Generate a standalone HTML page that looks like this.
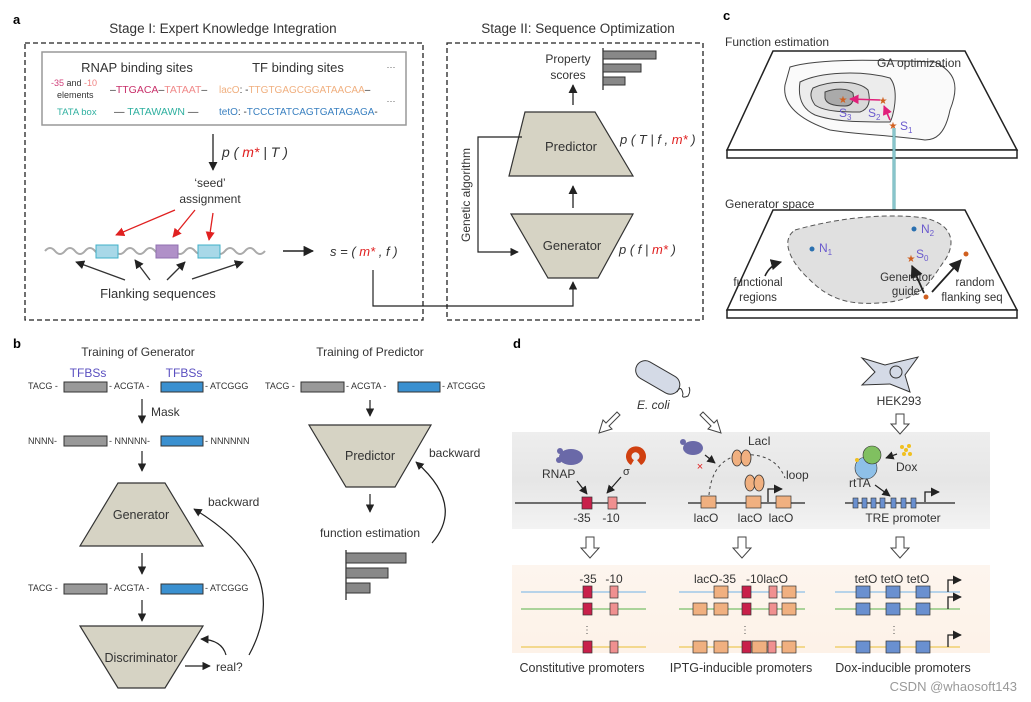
<!DOCTYPE html>
<html><head><meta charset="utf-8"><style>
html,body{margin:0;padding:0;background:#fff}
svg{display:block;font-family:"Liberation Sans",Arial,sans-serif}
</style></head><body>
<svg width="1031" height="702" viewBox="0 0 1031 702" xmlns="http://www.w3.org/2000/svg">
<defs>
<marker id="ah" viewBox="0 0 10 10" refX="9" refY="5" markerWidth="7" markerHeight="7" orient="auto"><path d="M0,0L10,5L0,10z" fill="#222"/></marker>
<marker id="ahr" viewBox="0 0 10 10" refX="9" refY="5" markerWidth="7" markerHeight="7" orient="auto"><path d="M0,0L10,5L0,10z" fill="#e02020"/></marker>
<marker id="ahp" viewBox="0 0 10 10" refX="9" refY="5" markerWidth="6" markerHeight="6" orient="auto"><path d="M0,0L10,5L0,10z" fill="#e0207a"/></marker>
<linearGradient id="gp" x1="0" y1="0" x2="0" y2="1"><stop offset="0" stop-color="#eee"/><stop offset="0.5" stop-color="#e6e6e6"/><stop offset="1" stop-color="#f3f3f3"/></linearGradient>
<linearGradient id="pp" x1="0" y1="0" x2="0" y2="1"><stop offset="0" stop-color="#fdf5ee"/><stop offset="1" stop-color="#fdf2e8"/></linearGradient>
</defs>

<!-- ===== Panel a ===== -->
<text x="13" y="24" font-size="13" font-weight="bold">a</text>
<text x="223" y="33" font-size="13.5" text-anchor="middle" fill="#333">Stage I: Expert Knowledge Integration</text>
<rect x="25" y="43" width="398" height="277" fill="none" stroke="#222" stroke-width="1.3" stroke-dasharray="5,3"/>
<rect x="42" y="52" width="364" height="73" fill="#fff" stroke="#999" stroke-width="1.5"/>
<text x="137" y="72" font-size="13" text-anchor="middle" fill="#333">RNAP binding sites</text>
<text x="298" y="72" font-size="13" text-anchor="middle" fill="#333">TF binding sites</text>
<text x="391" y="70" font-size="9" text-anchor="middle" fill="#555">···</text>
<text x="391" y="104" font-size="9" text-anchor="middle" fill="#555">···</text>
<text x="51" y="86" font-size="9"><tspan fill="#d0407a">-35</tspan><tspan fill="#333"> and </tspan><tspan fill="#f08080">-10</tspan></text>
<text x="57" y="98" font-size="9" fill="#333">elements</text>
<text x="110" y="93" font-size="10.5"><tspan fill="#333">–</tspan><tspan fill="#c8306a">TTGACA</tspan><tspan fill="#333">–</tspan><tspan fill="#f08a8a">TATAAT</tspan><tspan fill="#333">–</tspan></text>
<text x="219" y="93" font-size="10"><tspan fill="#f0b080">lacO</tspan><tspan fill="#333">: -</tspan><tspan fill="#f0b080">TTGTGAGCGGATAACAA</tspan><tspan fill="#333">–</tspan></text>
<text x="57" y="115" font-size="9.5" fill="#30b0a0">TATA box</text>
<text x="114" y="115" font-size="10.5"><tspan fill="#333">— </tspan><tspan fill="#30b0a0">TATAWAWN</tspan><tspan fill="#333"> —</tspan></text>
<text x="219" y="115" font-size="10"><tspan fill="#3a80c0">tetO</tspan><tspan fill="#333">: -</tspan><tspan fill="#3a80c0">TCCCTATCAGTGATAGAGA</tspan><tspan fill="#333">-</tspan></text>
<line x1="213" y1="134" x2="213" y2="170" stroke="#222" stroke-width="1.3" marker-end="url(#ah)"/>
<text x="222" y="157" font-size="14" font-style="italic" fill="#333">p ( <tspan fill="#e02020">m*</tspan> | T )</text>
<text x="210" y="187" font-size="12" text-anchor="middle" fill="#333">‘seed’</text>
<text x="210" y="203" font-size="12" text-anchor="middle" fill="#333">assignment</text>
<line x1="175" y1="210" x2="116" y2="235" stroke="#e02020" stroke-width="1.3" marker-end="url(#ahr)"/>
<line x1="195" y1="210" x2="173" y2="237" stroke="#e02020" stroke-width="1.3" marker-end="url(#ahr)"/>
<line x1="213" y1="213" x2="209" y2="240" stroke="#e02020" stroke-width="1.3" marker-end="url(#ahr)"/>
<path d="M45,251 q5,-6 10,0 t10,0 t10,0 t10,0 t10,0 t10,0 t10,0 t10,0 t10,0 t10,0 t10,0 t10,0 t10,0 t10,0 t10,0 t10,0 t10,0 t10,0 t10,0 t10,0 t10,0 t10,0" fill="none" stroke="#aaa" stroke-width="2"/>
<rect x="96" y="245" width="22" height="13" fill="#a8d8e8" stroke="#40b0c8" stroke-width="1"/>
<rect x="156" y="245" width="22" height="13" fill="#b090c8" stroke="#9070b0" stroke-width="1"/>
<rect x="198" y="245" width="22" height="13" fill="#a8d8e8" stroke="#40b0c8" stroke-width="1"/>
<line x1="125" y1="280" x2="76" y2="262" stroke="#333" stroke-width="1.3" marker-end="url(#ah)"/>
<line x1="150" y1="280" x2="135" y2="260" stroke="#333" stroke-width="1.3" marker-end="url(#ah)"/>
<line x1="167" y1="280" x2="185" y2="262" stroke="#333" stroke-width="1.3" marker-end="url(#ah)"/>
<line x1="192" y1="279" x2="243" y2="262" stroke="#333" stroke-width="1.3" marker-end="url(#ah)"/>
<text x="158" y="298" font-size="13" text-anchor="middle" fill="#333">Flanking sequences</text>
<line x1="283" y1="251" x2="313" y2="251" stroke="#222" stroke-width="1.5" marker-end="url(#ah)"/>
<text x="330" y="256" font-size="13" font-style="italic" fill="#333">s = ( <tspan fill="#e02020">m*</tspan> , f )</text>
<polyline points="373,270 373,306 573,306 573,282" fill="none" stroke="#222" stroke-width="1.2" marker-end="url(#ah)"/>

<!-- Stage II -->
<text x="578" y="33" font-size="13.5" text-anchor="middle" fill="#333">Stage II: Sequence Optimization</text>
<rect x="447" y="43" width="256" height="277" fill="none" stroke="#222" stroke-width="1.3" stroke-dasharray="5,3"/>
<text x="568" y="63" font-size="12" text-anchor="middle" fill="#333">Property</text>
<text x="568" y="79" font-size="12" text-anchor="middle" fill="#333">scores</text>
<line x1="603" y1="48" x2="603" y2="90" stroke="#333" stroke-width="1.3"/>
<rect x="603" y="51" width="53" height="8" fill="#888" stroke="#333"/>
<rect x="603" y="64" width="38" height="8" fill="#888" stroke="#333"/>
<rect x="603" y="77" width="22" height="8" fill="#888" stroke="#333"/>
<line x1="573" y1="105" x2="573" y2="85" stroke="#222" stroke-width="1.3" marker-end="url(#ah)"/>
<polygon points="525,112 595,112 633,176 509,176" fill="#d6d3c4" stroke="#333" stroke-width="1.2"/>
<text x="571" y="151" font-size="13" text-anchor="middle" fill="#333">Predictor</text>
<line x1="573" y1="208" x2="573" y2="186" stroke="#222" stroke-width="1.3" marker-end="url(#ah)"/>
<polygon points="511,214 633,214 598,278 548,278" fill="#d6d3c4" stroke="#333" stroke-width="1.2"/>
<text x="572" y="250" font-size="13" text-anchor="middle" fill="#333">Generator</text>
<text x="620" y="144" font-size="13" font-style="italic" fill="#333">p ( T | f , <tspan fill="#e02020">m*</tspan> )</text>
<text x="619" y="254" font-size="13" font-style="italic" fill="#333">p ( f | <tspan fill="#e02020">m*</tspan> )</text>
<polyline points="522,137 478,137 478,252 518,252" fill="none" stroke="#222" stroke-width="1.2" marker-end="url(#ah)"/>
<text transform="translate(470,195) rotate(-90)" font-size="12" text-anchor="middle" fill="#333">Genetic algorithm</text>

<!-- ===== Panel c ===== -->
<text x="723" y="20" font-size="13" font-weight="bold">c</text>
<text x="725" y="46" font-size="12" fill="#333">Function estimation</text>
<polygon points="773,51 965,51 1017,150 727,150" fill="#fff" stroke="#222" stroke-width="1.5"/>
<rect x="727" y="150" width="290" height="8" fill="#fff" stroke="#222" stroke-width="1.5"/>
<path d="M790,67 C820,58 880,60 935,62 C955,72 960,85 950,110 C945,135 935,140 925,140 C890,135 860,135 830,130 C800,120 782,105 785,85 Z" fill="#fafafa" stroke="#444" stroke-width="1"/>
<path d="M800,82 C820,72 860,70 890,78 C900,90 893,118 890,122 C860,122 835,122 815,115 C800,108 798,95 800,82 Z" fill="#ececec" stroke="#444" stroke-width="1"/>
<path d="M813,88 C830,80 858,80 868,90 C872,105 866,110 860,112 C845,112 825,112 815,105 C810,98 810,93 813,88 Z" fill="#d8d8d8" stroke="#444" stroke-width="1"/>
<path d="M825,92 C835,88 848,88 853,93 C855,103 850,106 845,106 C835,106 826,104 825,98 Z" fill="#aaa" stroke="#444" stroke-width="1"/>
<text x="877" y="67" font-size="12" fill="#333">GA optimization</text>
<line x1="880" y1="100" x2="850" y2="99" stroke="#e0207a" stroke-width="1.6" marker-end="url(#ahp)"/>
<line x1="890" y1="120" x2="884" y2="106" stroke="#e0207a" stroke-width="1.6" marker-end="url(#ahp)"/>
<text x="843" y="103" font-size="10" text-anchor="middle" fill="#d06020">★</text>
<text x="883" y="104" font-size="10" text-anchor="middle" fill="#d06020">★</text>
<text x="893" y="129" font-size="10" text-anchor="middle" fill="#d06020">★</text>
<text x="839" y="117" font-size="12" fill="#6a5acd">S<tspan font-size="8" dy="3">3</tspan></text>
<text x="868" y="117" font-size="12" fill="#6a5acd">S<tspan font-size="8" dy="3">2</tspan></text>
<text x="900" y="130" font-size="12" fill="#6a5acd">S<tspan font-size="8" dy="3">1</tspan></text>
<polyline points="894,128 894,259 909,259" fill="none" stroke="#5aa" stroke-width="3"/>
<polyline points="894,128 894,259 909,259" fill="none" stroke="#bde" stroke-width="1"/>
<text x="725" y="208" font-size="12" fill="#333">Generator space</text>
<polygon points="773,210 965,210 1017,310 727,310" fill="#fff" stroke="#222" stroke-width="1.5"/>
<rect x="727" y="310" width="290" height="8" fill="#fff" stroke="#222" stroke-width="1.5"/>
<path d="M795,230 C830,220 880,212 925,218 C955,225 955,245 945,260 C930,280 925,300 880,303 C850,305 830,300 810,280 C790,262 780,240 795,230 Z" fill="#e0e0e0" stroke="#555" stroke-width="1" stroke-dasharray="5,3"/>
<circle cx="812" cy="249" r="2.5" fill="#2a70b0"/>
<text x="819" y="252" font-size="12" fill="#6a5acd">N<tspan font-size="8" dy="3">1</tspan></text>
<circle cx="914" cy="229" r="2.5" fill="#2a70b0"/>
<text x="921" y="233" font-size="12" fill="#6a5acd">N<tspan font-size="8" dy="3">2</tspan></text>
<text x="911" y="262" font-size="10" text-anchor="middle" fill="#d06020">★</text>
<text x="916" y="258" font-size="12" fill="#6a5acd">S<tspan font-size="8" dy="3">0</tspan></text>
<text x="906" y="281" font-size="11.5" text-anchor="middle" fill="#333">Generator</text>
<text x="906" y="295" font-size="11.5" text-anchor="middle" fill="#333">guide</text>
<text x="758" y="286" font-size="11.5" text-anchor="middle" fill="#333">functional</text>
<text x="758" y="301" font-size="11.5" text-anchor="middle" fill="#333">regions</text>
<text x="975" y="286" font-size="11.5" text-anchor="middle" fill="#333">random</text>
<text x="972" y="301" font-size="11.5" text-anchor="middle" fill="#333">flanking seq</text>
<path d="M765,276 Q770,265 781,262" fill="none" stroke="#222" stroke-width="1.6" marker-end="url(#ah)"/>
<circle cx="926" cy="297" r="2.5" fill="#d06020"/>
<circle cx="966" cy="254" r="2.5" fill="#d06020"/>
<line x1="924" y1="293" x2="912" y2="266" stroke="#222" stroke-width="1.8" marker-end="url(#ah)"/>
<line x1="932" y1="292" x2="961" y2="260" stroke="#222" stroke-width="1.8" marker-end="url(#ah)"/>

<!-- ===== Panel b ===== -->
<text x="13" y="348" font-size="13" font-weight="bold">b</text>
<text x="138" y="356" font-size="12" text-anchor="middle" fill="#333">Training of Generator</text>
<text x="370" y="356" font-size="12" text-anchor="middle" fill="#333">Training of Predictor</text>
<text x="88" y="377" font-size="12" text-anchor="middle" fill="#5a4fc0">TFBSs</text>
<text x="184" y="377" font-size="12" text-anchor="middle" fill="#5a4fc0">TFBSs</text>
<g font-size="9" fill="#333">
<text x="28" y="389">TACG -</text><rect x="64" y="382" width="43" height="10" fill="#999" stroke="#333"/>
<text x="109" y="389">- ACGTA -</text><rect x="161" y="382" width="42" height="10" fill="#3a90d0" stroke="#333"/>
<text x="205" y="389">- ATCGGG</text>
<text x="28" y="444">NNNN-</text><rect x="64" y="436" width="43" height="10" fill="#999" stroke="#333"/>
<text x="109" y="444">- NNNNN-</text><rect x="161" y="436" width="42" height="10" fill="#3a90d0" stroke="#333"/>
<text x="205" y="444">- NNNNNN</text>
<text x="28" y="591">TACG -</text><rect x="64" y="584" width="43" height="10" fill="#999" stroke="#333"/>
<text x="109" y="591">- ACGTA -</text><rect x="161" y="584" width="42" height="10" fill="#3a90d0" stroke="#333"/>
<text x="205" y="591">- ATCGGG</text>
<text x="265" y="389">TACG -</text><rect x="301" y="382" width="43" height="10" fill="#999" stroke="#333"/>
<text x="346" y="389">- ACGTA -</text><rect x="398" y="382" width="42" height="10" fill="#3a90d0" stroke="#333"/>
<text x="442" y="389">- ATCGGG</text>
</g>
<line x1="142" y1="399" x2="142" y2="423" stroke="#222" stroke-width="1.2" marker-end="url(#ah)"/>
<text x="151" y="416" font-size="12" fill="#333">Mask</text>
<line x1="142" y1="451" x2="142" y2="471" stroke="#222" stroke-width="1.2" marker-end="url(#ah)"/>
<polygon points="118,483 165,483 203,546 80,546" fill="#d6d3c4" stroke="#333" stroke-width="1.2"/>
<text x="141" y="519" font-size="12.5" text-anchor="middle" fill="#333">Generator</text>
<line x1="142" y1="553" x2="142" y2="574" stroke="#222" stroke-width="1.2" marker-end="url(#ah)"/>
<line x1="142" y1="600" x2="142" y2="621" stroke="#222" stroke-width="1.2" marker-end="url(#ah)"/>
<polygon points="80,626 203,626 165,688 118,688" fill="#d6d3c4" stroke="#333" stroke-width="1.2"/>
<text x="141" y="662" font-size="12.5" text-anchor="middle" fill="#333">Discriminator</text>
<line x1="185" y1="666" x2="210" y2="666" stroke="#222" stroke-width="1.2" marker-end="url(#ah)"/>
<text x="216" y="671" font-size="12" fill="#333">real?</text>
<path d="M226,655 Q222,640 201,639" fill="none" stroke="#222" stroke-width="1.2" marker-end="url(#ah)"/>
<path d="M249,655 Q295,570 194,509" fill="none" stroke="#222" stroke-width="1.2" marker-end="url(#ah)"/>
<text x="208" y="506" font-size="12" fill="#333">backward</text>
<line x1="370" y1="400" x2="370" y2="416" stroke="#222" stroke-width="1.2" marker-end="url(#ah)"/>
<polygon points="309,425 431,425 395,487 346,487" fill="#d6d3c4" stroke="#333" stroke-width="1.2"/>
<text x="370" y="460" font-size="12.5" text-anchor="middle" fill="#333">Predictor</text>
<text x="429" y="457" font-size="12" fill="#333">backward</text>
<path d="M432,543 Q465,505 416,462" fill="none" stroke="#222" stroke-width="1.2" marker-end="url(#ah)"/>
<line x1="370" y1="494" x2="370" y2="512" stroke="#222" stroke-width="1.2" marker-end="url(#ah)"/>
<text x="370" y="537" font-size="12" text-anchor="middle" fill="#333">function estimation</text>
<line x1="346" y1="550" x2="346" y2="600" stroke="#333" stroke-width="1.3"/>
<rect x="346" y="553" width="60" height="10" fill="#888" stroke="#333"/>
<rect x="346" y="568" width="42" height="10" fill="#888" stroke="#333"/>
<rect x="346" y="583" width="24" height="10" fill="#888" stroke="#333"/>

<!-- ===== Panel d ===== -->
<text x="513" y="348" font-size="13" font-weight="bold">d</text>
<rect x="512" y="432" width="478" height="97" fill="url(#gp)"/>
<rect x="512" y="565" width="478" height="88" fill="url(#pp)"/>
<rect x="634" y="368" width="48" height="19" rx="9.5" fill="#d4dae6" stroke="#333" transform="rotate(30 658 377)"/>
<path d="M677,392 q4,-8 6,2 q-2,5 5,2 q3,-5 1,-9" fill="none" stroke="#333" stroke-width="1"/>
<text x="637" y="409" font-size="12" font-style="italic" fill="#333">E. coli</text>
<path d="M862,358 L885,365 L918,357 L905,375 L910,392 L890,384 L862,385 L875,372 Z" fill="#d4dae6" stroke="#333" stroke-width="1"/>
<circle cx="896" cy="372" r="6" fill="#d4dae6" stroke="#333"/>
<text x="899" y="405" font-size="12" text-anchor="middle" fill="#333">HEK293</text>
<g fill="#fff" stroke="#444" stroke-width="1">
<path d="M617,412 l-11,11 l-3,-3 l-4,13 l13,-4 l-3,-3 l11,-11 z"/>
<path d="M703,412 l11,11 l3,-3 l4,13 l-13,-4 l3,-3 l-11,-11 z"/>
<path d="M896,414 h8 v10 h5 l-9,10 l-9,-10 h5 z"/>
<path d="M586,537 h8 v11 h5 l-9,10 l-9,-10 h5 z"/>
<path d="M738,537 h8 v11 h5 l-9,10 l-9,-10 h5 z"/>
<path d="M896,537 h8 v11 h5 l-9,10 l-9,-10 h5 z"/>
</g>
<ellipse cx="571" cy="457" rx="12" ry="8" fill="#6a69a8"/><circle cx="560" cy="451" r="3" fill="#6a69a8"/><circle cx="559" cy="460" r="3" fill="#6a69a8"/>
<path d="M631,465 a10,10 0 1 1 10,0 l-4,-5 a4,4 0 1 0 -3,0 z" fill="#d04010"/>
<text x="542" y="478" font-size="12" fill="#333">RNAP</text>
<text x="623" y="475" font-size="11" fill="#333">σ</text>
<line x1="577" y1="481" x2="587" y2="494" stroke="#222" stroke-width="1.2" marker-end="url(#ah)"/>
<line x1="621" y1="477" x2="607" y2="493" stroke="#222" stroke-width="1.2" marker-end="url(#ah)"/>
<line x1="515" y1="503" x2="646" y2="503" stroke="#222" stroke-width="1.3"/>
<rect x="582" y="497" width="10" height="12" fill="#c8204a" stroke="#333" stroke-width="0.7"/>
<rect x="608" y="497" width="9" height="12" fill="#f09090" stroke="#333" stroke-width="0.7"/>
<text x="582" y="522" font-size="12" text-anchor="middle" fill="#333">-35</text>
<text x="611" y="522" font-size="12" text-anchor="middle" fill="#333">-10</text>
<ellipse cx="693" cy="448" rx="10" ry="7" fill="#6a69a8"/><circle cx="683" cy="442" r="3" fill="#6a69a8"/>
<text x="700" y="470" font-size="11" fill="#e02020" text-anchor="middle">×</text>
<line x1="705" y1="455" x2="715" y2="463" stroke="#222" stroke-width="1.2" marker-end="url(#ah)"/>
<path d="M709,495 Q712,460 740,455 Q775,452 785,478" fill="none" stroke="#444" stroke-dasharray="3,3"/>
<ellipse cx="737" cy="458" rx="5" ry="8" fill="#f0b080" stroke="#333" stroke-width="0.8"/>
<ellipse cx="746" cy="458" rx="5" ry="8" fill="#f0b080" stroke="#333" stroke-width="0.8"/>
<ellipse cx="750" cy="483" rx="5" ry="8" fill="#f0b080" stroke="#333" stroke-width="0.8"/>
<ellipse cx="759" cy="483" rx="5" ry="8" fill="#f0b080" stroke="#333" stroke-width="0.8"/>
<text x="748" y="445" font-size="12" fill="#333">LacI</text>
<text x="786" y="479" font-size="12" fill="#333">loop</text>
<polyline points="768,502 768,489 782,489" fill="none" stroke="#222" stroke-width="1.3" marker-end="url(#ah)"/>
<line x1="688" y1="503" x2="805" y2="503" stroke="#222" stroke-width="1.3"/>
<rect x="701" y="496" width="15" height="12" fill="#f0b080" stroke="#333" stroke-width="0.7"/>
<rect x="746" y="496" width="15" height="12" fill="#f0b080" stroke="#333" stroke-width="0.7"/>
<rect x="776" y="496" width="15" height="12" fill="#f0b080" stroke="#333" stroke-width="0.7"/>
<text x="706" y="522" font-size="12" text-anchor="middle" fill="#333">lacO</text>
<text x="750" y="522" font-size="12" text-anchor="middle" fill="#333">lacO</text>
<text x="781" y="522" font-size="12" text-anchor="middle" fill="#333">lacO</text>
<circle cx="866" cy="468" r="11" fill="#8ec0e8" stroke="#333" stroke-width="0.6"/>
<circle cx="872" cy="455" r="9" fill="#80c060" stroke="#333" stroke-width="0.6"/>
<circle cx="857" cy="460" r="2" fill="#f0c020"/>
<g fill="#f0c020"><circle cx="902" cy="447" r="2"/><circle cx="906" cy="450" r="2"/><circle cx="909" cy="446" r="2"/><circle cx="904" cy="454" r="2"/><circle cx="910" cy="454" r="2"/></g>
<line x1="897" y1="454" x2="886" y2="458" stroke="#222" stroke-width="1.2" marker-end="url(#ah)"/>
<text x="896" y="471" font-size="12" fill="#333">Dox</text>
<text x="849" y="487" font-size="12" fill="#333">rtTA</text>
<line x1="875" y1="485" x2="890" y2="496" stroke="#222" stroke-width="1.2" marker-end="url(#ah)"/>
<line x1="845" y1="503" x2="955" y2="503" stroke="#222" stroke-width="1.3"/>
<g fill="#6a90d0" stroke="#333" stroke-width="0.6">
<rect x="853" y="498" width="5" height="10"/><rect x="862" y="498" width="5" height="10"/><rect x="871" y="498" width="5" height="10"/><rect x="880" y="498" width="5" height="10"/><rect x="891" y="498" width="5" height="10"/><rect x="901" y="498" width="5" height="10"/><rect x="911" y="498" width="5" height="10"/>
</g>
<polyline points="925,502 925,492 939,492" fill="none" stroke="#222" stroke-width="1.3" marker-end="url(#ah)"/>
<text x="903" y="522" font-size="12" text-anchor="middle" fill="#333">TRE promoter</text>
<g stroke-width="1.5">
<line x1="521" y1="592" x2="646" y2="592" stroke="#a0c8e8"/>
<line x1="521" y1="609" x2="646" y2="609" stroke="#90c880"/>
<line x1="521" y1="647" x2="646" y2="647" stroke="#f0d070"/>
<line x1="679" y1="592" x2="805" y2="592" stroke="#a0c8e8"/>
<line x1="679" y1="609" x2="805" y2="609" stroke="#90c880"/>
<line x1="679" y1="647" x2="805" y2="647" stroke="#f0d070"/>
<line x1="835" y1="592" x2="960" y2="592" stroke="#a0c8e8"/>
<line x1="835" y1="609" x2="960" y2="609" stroke="#90c880"/>
<line x1="835" y1="647" x2="960" y2="647" stroke="#f0d070"/>
</g>
<text x="588" y="583" font-size="12" text-anchor="middle" fill="#333">-35</text>
<text x="614" y="583" font-size="12" text-anchor="middle" fill="#333">-10</text>
<g stroke="#333" stroke-width="0.7">
<rect x="583" y="586" width="9" height="12" fill="#c8204a"/><rect x="610" y="586" width="8" height="12" fill="#f09090"/>
<rect x="583" y="603" width="9" height="12" fill="#c8204a"/><rect x="610" y="603" width="8" height="12" fill="#f09090"/>
<rect x="583" y="641" width="9" height="12" fill="#c8204a"/><rect x="610" y="641" width="8" height="12" fill="#f09090"/>
</g>
<text x="587" y="633" font-size="10" text-anchor="middle" fill="#555">⋮</text>
<text x="741" y="583" font-size="12" text-anchor="middle" fill="#333">lacO-35&#160;&#160;&#160;-10lacO</text>
<g stroke="#333" stroke-width="0.7">
<rect x="714" y="586" width="14" height="12" fill="#f0b080"/><rect x="742" y="586" width="9" height="12" fill="#c8204a"/><rect x="769" y="586" width="8" height="12" fill="#f09090"/><rect x="782" y="586" width="14" height="12" fill="#f0b080"/>
<rect x="693" y="603" width="14" height="12" fill="#f0b080"/><rect x="714" y="603" width="14" height="12" fill="#f0b080"/><rect x="742" y="603" width="9" height="12" fill="#c8204a"/><rect x="769" y="603" width="8" height="12" fill="#f09090"/><rect x="782" y="603" width="14" height="12" fill="#f0b080"/>
<rect x="693" y="641" width="14" height="12" fill="#f0b080"/><rect x="714" y="641" width="14" height="12" fill="#f0b080"/><rect x="742" y="641" width="9" height="12" fill="#c8204a"/><rect x="752" y="641" width="15" height="12" fill="#f0b080"/><rect x="768" y="641" width="8" height="12" fill="#f09090"/><rect x="782" y="641" width="14" height="12" fill="#f0b080"/>
</g>
<text x="745" y="633" font-size="10" text-anchor="middle" fill="#555">⋮</text>
<text x="892" y="583" font-size="12" text-anchor="middle" fill="#333">tetO tetO tetO</text>
<g stroke="#333" stroke-width="0.7" fill="#6a90d0">
<rect x="856" y="586" width="14" height="12"/><rect x="886" y="586" width="14" height="12"/><rect x="916" y="586" width="14" height="12"/>
<rect x="856" y="603" width="14" height="12"/><rect x="886" y="603" width="14" height="12"/><rect x="916" y="603" width="14" height="12"/>
<rect x="856" y="641" width="14" height="12"/><rect x="886" y="641" width="14" height="12"/><rect x="916" y="641" width="14" height="12"/>
</g>
<text x="894" y="633" font-size="10" text-anchor="middle" fill="#555">⋮</text>
<g fill="none" stroke="#222" stroke-width="1.3">
<polyline points="948,592 948,580 961,580" marker-end="url(#ah)"/>
<polyline points="948,609 948,597 961,597" marker-end="url(#ah)"/>
<polyline points="948,647 948,635 961,635" marker-end="url(#ah)"/>
</g>
<text x="582" y="672" font-size="12.5" text-anchor="middle" fill="#333">Constitutive promoters</text>
<text x="741" y="672" font-size="12.5" text-anchor="middle" fill="#333">IPTG-inducible promoters</text>
<text x="903" y="672" font-size="12.5" text-anchor="middle" fill="#333">Dox-inducible promoters</text>
<text x="1017" y="691" font-size="13" text-anchor="end" fill="#999">CSDN @whaosoft143</text>
</svg>
</body></html>
